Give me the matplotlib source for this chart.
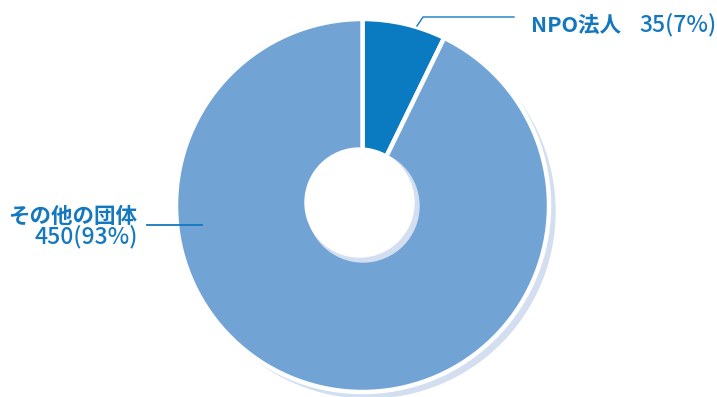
import matplotlib
matplotlib.use("Agg")
import matplotlib.pyplot as plt
from matplotlib.patches import Circle

plt.rcParams['font.family'] = ['Noto Sans CJK JP', 'DejaVu Sans']

# data
categories = ["NPO法人", "その他の団体"]
counts = [35, 450]
shares = [7, 93]
colors = ["#0b7bc1", "#72a3d5"]
text_color = "#1478bf"
shadow = "#d3dff0"

W, H = 717, 397
fig = plt.figure(figsize=(W / 100, H / 100), dpi=100)
ax = fig.add_axes([0, 0, 1, 1])

def py(y):
    return H - y

cx, cy, R = 362.5, 205.5, 186.5

# drop shadow of the ring
ax.add_patch(Circle((cx + 6, py(cy + 6)), R, color=shadow, zorder=1))

wedges, _ = ax.pie(counts, center=(cx, py(cy)), radius=R, startangle=90,
                   counterclock=False, colors=colors,
                   wedgeprops=dict(edgecolor='white', linewidth=3.2))
for w in wedges:
    w.set_zorder(2)
ax.set_xlim(0, W)
ax.set_ylim(0, H)
ax.set_aspect('equal')
ax.axis('off')

# hole with inner bevel
ax.add_patch(Circle((cx + 0.5, py(cy + 0.5)), 56, color=shadow, zorder=5))
ax.add_patch(Circle((cx - 3, py(cy - 3)), 54.5, color='white', zorder=6))

# leader lines
ax.plot([417, 423, 514], [py(26), py(17), py(17)], color=text_color, lw=1.0, zorder=7)
ax.plot([147, 202], [py(225), py(225)], color=text_color, lw=1.3, zorder=7)

# labels
ax.text(531, py(25), categories[0], color=text_color, fontsize=15.5,
        fontweight='bold', ha='left', va='center', zorder=8)
ax.text(639, py(25), f"{counts[0]}({shares[0]}%)", color=text_color,
        fontsize=16.5, fontweight='medium', ha='left', va='center', zorder=8)
ax.text(137, py(216), categories[1], color=text_color, fontsize=15.5,
        fontweight='bold', ha='right', va='center', zorder=8)
ax.text(138, py(237), f"{counts[1]}({shares[1]}%)", color=text_color,
        fontsize=16.5, fontweight='medium', ha='right', va='center', zorder=8)

fig.savefig("out.png", dpi=100)
